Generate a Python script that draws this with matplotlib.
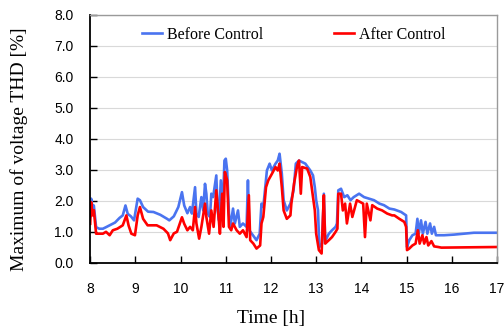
import matplotlib
matplotlib.use('Agg')
from matplotlib import pyplot as plt

# Time [h] and maximum voltage THD [%]
before_time = [
    8.00, 8.02, 8.05, 8.08, 8.13, 8.20, 8.28, 8.35, 8.43, 8.55, 8.65, 8.72, 8.78, 8.83, 8.90, 8.97,
    9.05, 9.10, 9.17, 9.28, 9.40, 9.55, 9.70, 9.75, 9.85, 9.95, 10.03, 10.08, 10.15, 10.21, 10.25,
    10.32, 10.35, 10.40, 10.46, 10.50, 10.54, 10.57, 10.60, 10.65, 10.68, 10.72, 10.79, 10.82, 10.85,
    10.89, 10.93, 10.97, 11.00, 11.03, 11.07, 11.10, 11.16, 11.20, 11.27, 11.31, 11.38, 11.46, 11.49,
    11.52, 11.60, 11.68, 11.75, 11.79, 11.83, 11.91, 11.97, 12.02, 12.10, 12.15, 12.19, 12.24, 12.28,
    12.35, 12.43, 12.50, 12.55, 12.62, 12.76, 12.87, 12.93, 12.97, 13.00, 13.04, 13.07, 13.13, 13.17,
    13.20, 13.28, 13.35, 13.43, 13.46, 13.49, 13.55, 13.62, 13.69, 13.76, 13.83, 13.95, 14.06, 14.17,
    14.28, 14.40, 14.50, 14.62, 14.73, 14.88, 14.99, 15.01, 15.06, 15.13, 15.20, 15.24, 15.27, 15.32,
    15.36, 15.42, 15.46, 15.52, 15.56, 15.61, 15.65, 15.83, 16.05, 16.27, 16.49, 17.00,
]
before_thd = [
    1.50, 2.07, 1.80, 1.85, 1.15, 1.10, 1.10, 1.15, 1.21, 1.30, 1.45, 1.53, 1.85, 1.58, 1.50, 1.37,
    2.07, 2.02, 1.80, 1.65, 1.64, 1.55, 1.42, 1.37, 1.50, 1.80, 2.28, 1.85, 1.60, 1.80, 1.59,
    2.44, 1.59, 1.48, 2.12, 1.69, 2.55, 2.23, 1.59, 1.48, 2.23, 2.12, 2.82, 1.69, 1.37,
    2.66, 1.59, 3.30, 3.36, 2.98, 1.59, 1.16, 1.75, 1.27, 1.69, 1.16, 1.27, 1.16, 2.66,
    1.05, 0.89, 0.73, 0.94, 1.91, 1.80, 2.98, 3.20, 2.98, 3.20, 3.30, 3.52, 2.87, 2.02,
    1.69, 1.91, 2.34, 3.20, 3.30, 3.20, 2.98, 2.82, 2.44, 2.02, 1.70, 0.51, 0.62, 2.23,
    0.70, 0.94, 1.05, 1.16, 1.27, 2.34, 2.39, 2.12, 2.18, 2.02, 2.12, 2.23, 2.12, 2.07,
    2.02, 1.91, 1.86, 1.75, 1.72, 1.64, 1.53, 0.51, 0.73, 0.89, 0.94, 1.42, 0.94, 1.37,
    0.94, 1.32, 0.94, 1.27, 0.94, 1.16, 0.89, 0.89, 0.91, 0.94, 0.97, 0.97,
]

after_time = [
    8.00, 8.02, 8.05, 8.08, 8.13, 8.28, 8.35, 8.43, 8.50, 8.60, 8.72, 8.80, 8.85, 8.91, 8.99, 9.05,
    9.10, 9.17, 9.27, 9.47, 9.62, 9.72, 9.77, 9.85, 9.92, 10.03, 10.08, 10.15, 10.21, 10.27, 10.32,
    10.35, 10.41, 10.46, 10.54, 10.57, 10.63, 10.68, 10.73, 10.79, 10.84, 10.87, 10.92, 10.95, 10.98,
    11.03, 11.07, 11.12, 11.16, 11.24, 11.31, 11.38, 11.46, 11.51, 11.54, 11.61, 11.68, 11.76, 11.79,
    11.83, 11.89, 11.94, 12.02, 12.10, 12.15, 12.19, 12.24, 12.28, 12.35, 12.43, 12.45, 12.51, 12.58,
    12.62, 12.66, 12.69, 12.80, 12.87, 12.93, 12.97, 13.00, 13.06, 13.12, 13.15, 13.17, 13.20, 13.28,
    13.35, 13.43, 13.47, 13.49, 13.55, 13.59, 13.64, 13.68, 13.75, 13.80, 13.90, 14.04, 14.08, 14.12,
    14.20, 14.24, 14.35, 14.46, 14.57, 14.68, 14.73, 14.84, 14.95, 14.99, 15.01, 15.06, 15.13, 15.20,
    15.25, 15.29, 15.35, 15.39, 15.44, 15.48, 15.55, 15.61, 15.70, 15.77, 17.00,
]
after_thd = [
    1.26, 1.96, 1.53, 1.70, 0.94, 0.94, 1.00, 0.89, 1.05, 1.10, 1.21, 1.53, 1.20, 0.94, 0.89, 1.53,
    1.80, 1.42, 1.21, 1.21, 1.10, 0.95, 0.73, 0.95, 1.00, 1.47, 1.26, 1.05, 1.16, 1.05, 1.80,
    1.27, 0.78, 1.16, 1.91, 1.48, 0.94, 1.69, 1.16, 2.34, 1.48, 0.94, 2.23, 1.16, 2.93,
    2.66, 1.16, 1.05, 1.27, 1.05, 0.94, 1.05, 0.83, 2.18, 0.73, 0.62, 0.46, 0.56, 1.27,
    1.48, 2.44, 2.66, 2.87, 3.09, 2.98, 3.20, 2.44, 1.69, 1.42, 1.53, 1.90, 2.55, 3.14,
    3.30, 2.23, 3.09, 3.04, 2.77, 2.12, 1.69, 0.94, 0.41, 0.30, 1.48, 2.18, 0.62, 0.73,
    0.83, 1.00, 1.10, 2.23, 2.23, 1.69, 1.91, 1.27, 1.91, 1.48, 2.02, 1.91, 0.83, 1.91,
    1.37, 1.86, 1.75, 1.69, 1.59, 1.53, 1.53, 1.42, 1.32, 1.16, 0.41, 0.46, 0.56, 0.62,
    1.05, 0.62, 0.89, 0.62, 0.83, 0.56, 0.70, 0.53, 0.51, 0.49, 0.51,
]

x_ticks = [8, 9, 10, 11, 12, 13, 14, 15, 16, 17]
y_ticks = [0.0, 1.0, 2.0, 3.0, 4.0, 5.0, 6.0, 7.0, 8.0]

serif = 'Liberation Serif'
sans = 'Liberation Sans'

fig = plt.figure(figsize=(5.04, 3.31), dpi=100)
ax = fig.add_axes([0.179, 0.206, 0.807, 0.749])

ax.plot(before_time, before_thd, color='#4a74f0', linewidth=1.9, label='Before Control')
ax.plot(after_time, after_thd, color='#ff0000', linewidth=1.9, label='After Control')

ax.set_xlim(8, 17)
ax.set_ylim(0, 8)
ax.set_xticks(x_ticks)
ax.set_yticks(y_ticks)
ax.set_xticklabels([str(t) for t in x_ticks], fontfamily=sans, fontsize=10)
ax.set_yticklabels([f'{v:.1f}' for v in y_ticks], fontfamily=sans, fontsize=10)
ax.tick_params(axis='x', direction='in', length=5, width=1, pad=14)
ax.tick_params(axis='y', direction='in', length=5, width=1, pad=12)

ax.grid(axis='y', color='#d9d9d9', linewidth=0.8)
ax.set_axisbelow(True)

for side in ['left', 'bottom']:
    ax.spines[side].set_color('black')
    ax.spines[side].set_linewidth(1.3)
for side in ['top', 'right']:
    ax.spines[side].set_color('#9a9a9a')
    ax.spines[side].set_linewidth(1.0)

ax.set_xlabel('Time [h]', fontfamily=serif, fontsize=14)
ax.set_ylabel('Maximum of voltage THD [%]', fontfamily=serif, fontsize=14)
ax.xaxis.set_label_coords(0.445, -0.192)
ax.yaxis.set_label_coords(-0.152, 0.46)

ax.legend(loc='center', bbox_to_anchor=(0.5, 0.92), ncol=2, frameon=False,
          prop={'family': serif, 'size': 11.5}, handlelength=1.3, handletextpad=0.3,
          columnspacing=4.4)

fig.savefig('out.png', dpi=100)
